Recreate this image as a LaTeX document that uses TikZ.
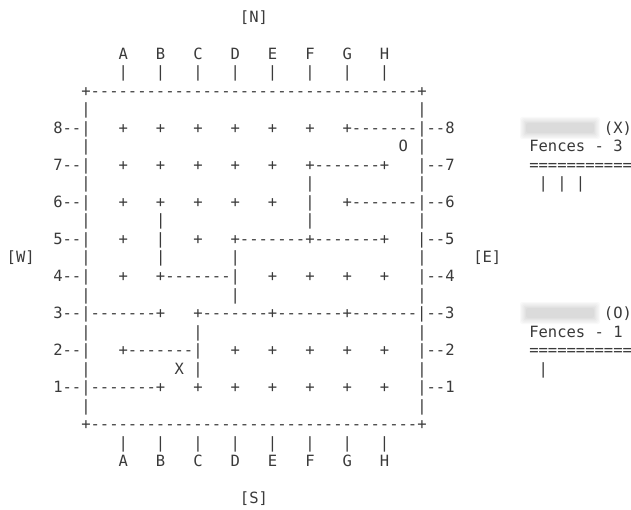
\documentclass[tikz,border=0pt]{standalone}
\usepackage{fontspec}
\newfontfamily\boardfont{DejaVu Sans Mono}[WordSpace={1,0,0}]
\definecolor{txtgray}{HTML}{3A3A3A}
\newcommand{\putt}[4]{\node[txt] (#1) at ({86+(#2-0.5)*9.333},{22.5+18.5*#3}) {#4};}
\newcommand{\blurbox}[1]{%
  \foreach \k in {0,...,5}{%
    \fill[black,opacity=0.025,rounded corners=2pt]
      ({520+\k*1.2},{#1-11+\k*1.2}) rectangle ({600-\k*1.2},{#1+11-\k*1.2});}}
\begin{document}
\begin{tikzpicture}[x=1pt,y=-1pt,
  txt/.style={anchor=base west,inner sep=0pt,outer sep=0pt,text=txtgray,
    font=\boardfont\fontsize{15.5pt}{18.5pt}\selectfont}]
\fill[white] (0,0) rectangle (631,510);
\useasboundingbox (0,0) rectangle (631,510);
% blurred player names
\blurbox{128}
\blurbox{313}
% compass labels and column headers
\putt{north}{17}{0}{[N]}
\putt{coltop}{4}{2}{A~~~B~~~C~~~D~~~E~~~F~~~G~~~H}
\putt{ticktop}{4}{3}{|~~~|~~~|~~~|~~~|~~~|~~~|~~~|}
\putt{bordtop}{0}{4}{+-----------------------------------+}
\putt{l5a}{0}{5}{|}\putt{l5b}{36}{5}{|}
\putt{row8}{-3}{6}{8--|~~~+~~~+~~~+~~~+~~~+~~~+~~~+-------|--8}
\putt{l7a}{0}{7}{|}\putt{omark}{34}{7}{O}\putt{l7b}{36}{7}{|}
\putt{row7}{-3}{8}{7--|~~~+~~~+~~~+~~~+~~~+~~~+-------+~~~|--7}
\putt{l9a}{0}{9}{|}\putt{l9b}{24}{9}{|}\putt{l9c}{36}{9}{|}
\putt{row6}{-3}{10}{6--|~~~+~~~+~~~+~~~+~~~+~~~|~~~+-------|--6}
\putt{l11a}{0}{11}{|}\putt{l11b}{8}{11}{|}\putt{l11c}{24}{11}{|}\putt{l11d}{36}{11}{|}
\putt{row5}{-3}{12}{5--|~~~+~~~|~~~+~~~+-------+-------+~~~|--5}
\putt{west}{-8}{13}{[W]}
\putt{l13a}{0}{13}{|}\putt{l13b}{8}{13}{|}\putt{l13c}{16}{13}{|}\putt{l13d}{36}{13}{|}
\putt{east}{42}{13}{[E]}
\putt{row4}{-3}{14}{4--|~~~+~~~+-------|~~~+~~~+~~~+~~~+~~~|--4}
\putt{l15a}{0}{15}{|}\putt{l15b}{16}{15}{|}\putt{l15c}{36}{15}{|}
\putt{row3}{-3}{16}{3--|-------+~~~+-------+-------+-------|--3}
\putt{l17a}{0}{17}{|}\putt{l17b}{12}{17}{|}\putt{l17c}{36}{17}{|}
\putt{row2}{-3}{18}{2--|~~~+-------|~~~+~~~+~~~+~~~+~~~+~~~|--2}
\putt{l19a}{0}{19}{|}\putt{xmark}{10}{19}{X}\putt{l19b}{12}{19}{|}\putt{l19c}{36}{19}{|}
\putt{row1}{-3}{20}{1--|-------+~~~+~~~+~~~+~~~+~~~+~~~+~~~|--1}
\putt{l21a}{0}{21}{|}\putt{l21b}{36}{21}{|}
\putt{bordbot}{0}{22}{+-----------------------------------+}
\putt{tickbot}{4}{23}{|~~~|~~~|~~~|~~~|~~~|~~~|~~~|}
\putt{colbot}{4}{24}{A~~~B~~~C~~~D~~~E~~~F~~~G~~~H}
\putt{south}{17}{26}{[S]}
% side panels
\putt{px}{56}{6}{(X)}
\putt{fx}{48}{7}{Fences~-~3}
\putt{ex}{48}{8}{===========}
\putt{bx}{49}{9}{|~|~|}
\putt{po}{56}{16}{(O)}
\putt{fo}{48}{17}{Fences~-~1}
\putt{eo}{48}{18}{===========}
\putt{bo}{49}{19}{|}
\end{tikzpicture}
\end{document}
